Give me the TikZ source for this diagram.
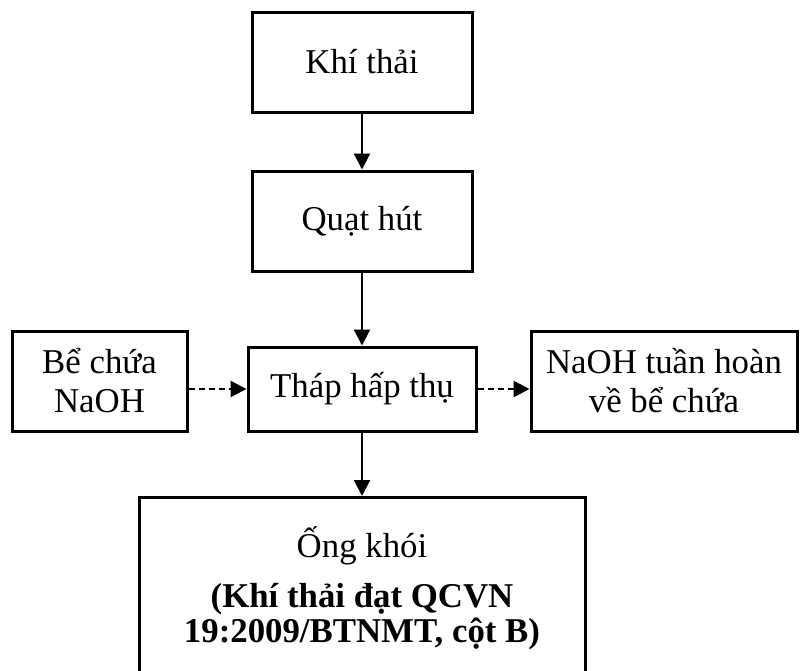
\documentclass[tikz,border=0pt]{standalone}
\usepackage{fontspec}
\setmainfont{Liberation Serif}
\usetikzlibrary{arrows.meta}
\begin{document}
\begin{tikzpicture}[x=0.5pt,y=-0.5pt,
  box/.style={draw,line width=1.5pt,align=center,inner sep=0pt,
    font=\fontsize{17.4}{19.5}\selectfont},
  flow/.style={line width=1.1pt,-{Triangle[length=8pt,width=8pt]}},
  dflow/.style={flow,line width=1.4pt,dash pattern=on 3pt off 2pt}]
\clip (0,0) rectangle (800,671);
\useasboundingbox (0,0) rectangle (800,671);
\node[box,minimum width=110pt,minimum height=50pt] (kt) at (362,62) {Khí thải};
\node[box,minimum width=110pt,minimum height=50pt] (qh) at (362,221) {Quạt hút};
\node[box,minimum width=114pt,minimum height=42pt] (thap) at (362,389) {Tháp hấp thụ};
\node[box,minimum width=87.5pt,minimum height=50pt] (be) at (99.5,381) {Bể chứa\\NaOH};
\node[box,minimum width=133pt,minimum height=50pt] (naoh) at (664,381) {NaOH tuần hoàn\\về bể chứa};
\node[box,minimum width=223pt,minimum height=110pt,anchor=north] (ong) at (362,496) {};
\node[align=center,inner sep=0pt,anchor=base,font=\fontsize{17.4}{17.5}\selectfont] (ongtxt) at (362,642)
  {Ống khói\\[7.5pt]\textbf{(Khí thải đạt QCVN}\\\textbf{19:2009/BTNMT, cột B)}};
\draw[flow] (kt) -- (qh);
\draw[flow] (qh) -- (thap);
\draw[flow] (thap) -- (ong);
\draw[dflow] (be.east |- thap) -- (thap.west);
\draw[dflow] (thap.east) -- (naoh.west |- thap);
\end{tikzpicture}
\end{document}
